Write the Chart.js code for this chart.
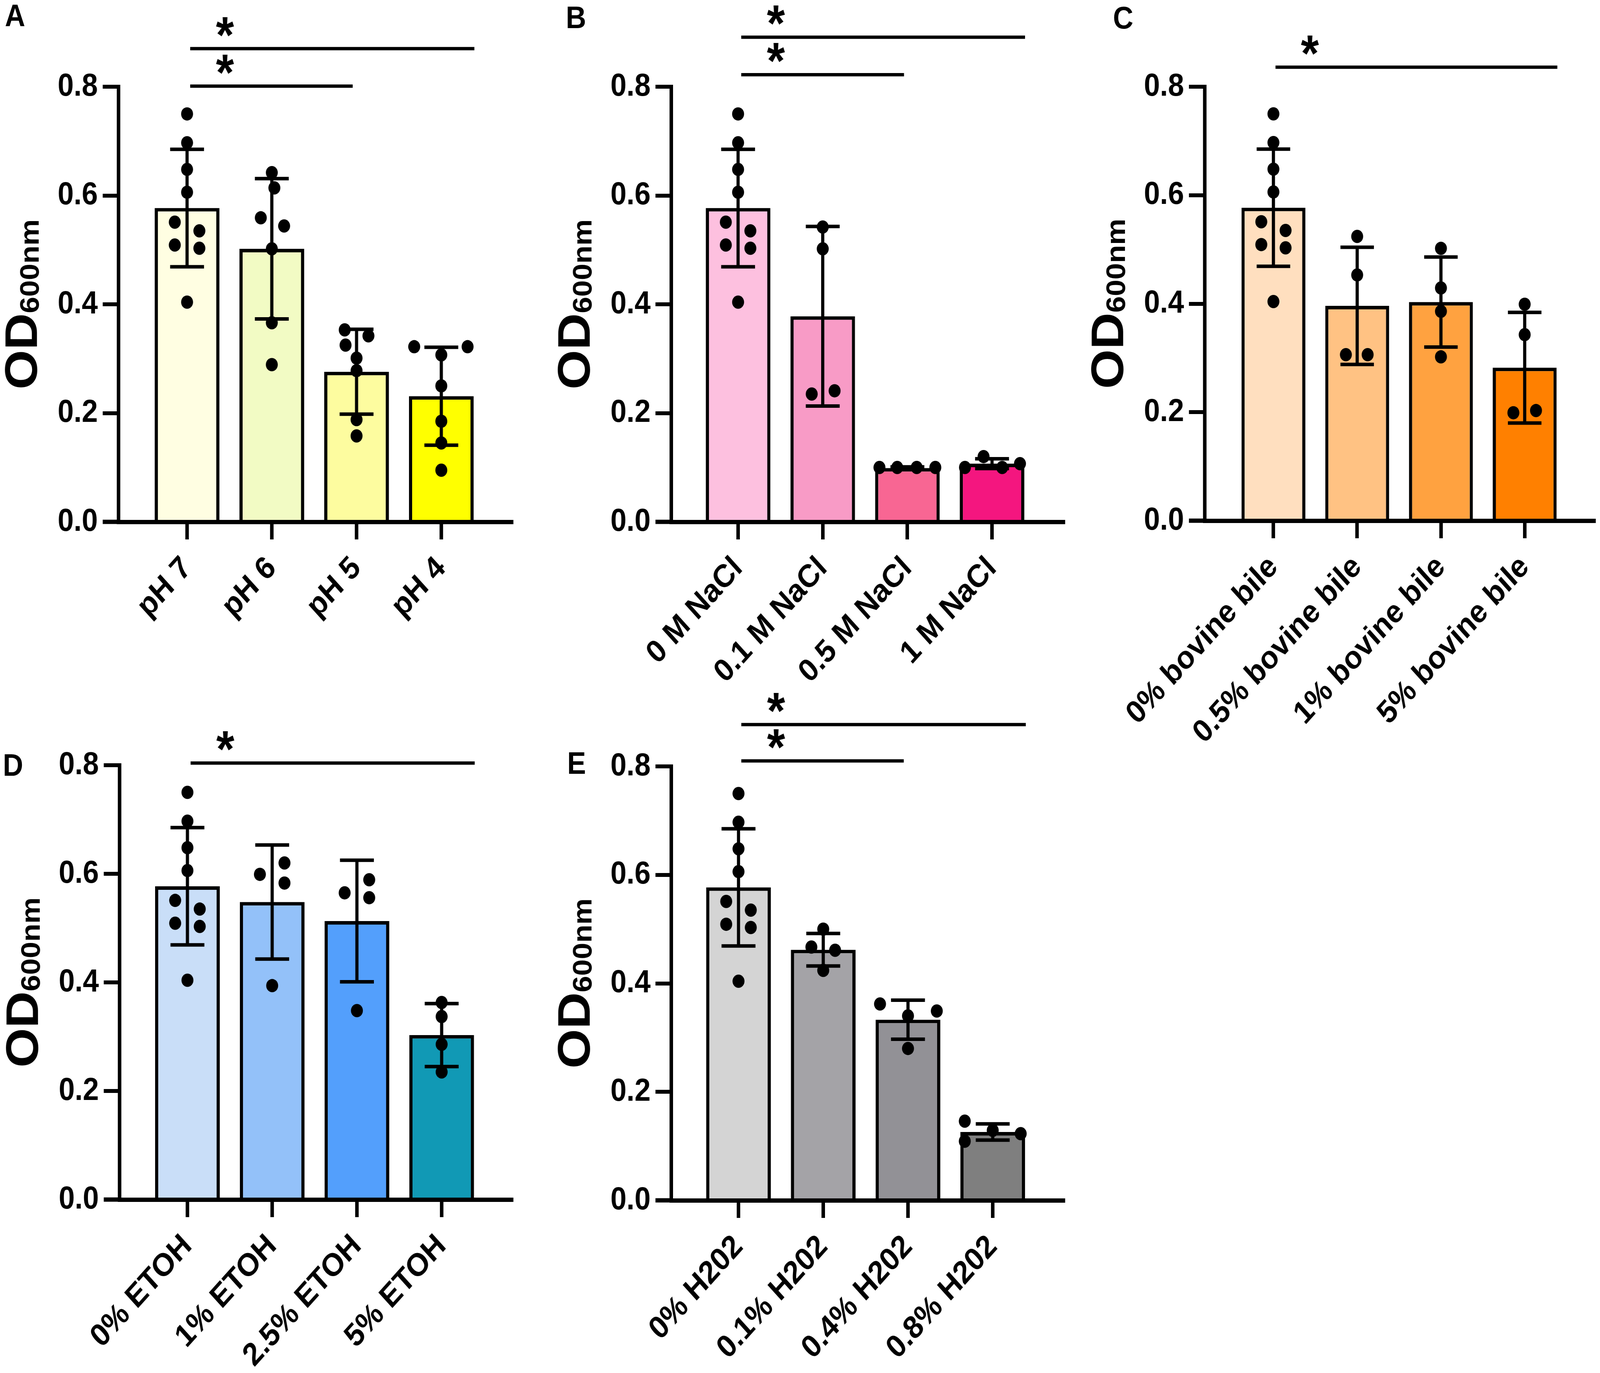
<!DOCTYPE html>
<html><head><meta charset="utf-8">
<script src="https://cdn.jsdelivr.net/npm/chart.js@4.4.1/dist/chart.umd.min.js"></script>
<style>
html,body{margin:0;padding:0;background:#fff;overflow:hidden;}
#stage{width:4550px;height:3515px;position:absolute;left:0;top:0;transform-origin:0 0;overflow:hidden;background:#fff;}
canvas{position:absolute;}
.lbl{position:absolute;font:bold 80px 'Liberation Sans',Arial,sans-serif;line-height:1;color:#000;}
</style></head><body>
<div id="stage">
<div class="lbl" style="left:14px;top:0px">A</div>
<div class="lbl" style="left:1609px;top:5px">B</div>
<div class="lbl" style="left:3165px;top:6px">C</div>
<div class="lbl" style="left:8px;top:1919px">D</div>
<div class="lbl" style="left:1613px;top:1914px">E</div>
<canvas id="cA"></canvas>
<canvas id="cB"></canvas>
<canvas id="cC"></canvas>
<canvas id="cD"></canvas>
<canvas id="cE"></canvas>
</div>
<script>
// ---------- data ----------
const yTicks = [0, 0.2, 0.4, 0.6, 0.8];
const titleMain = 'OD';
const titleSub = '600nm';
const sigMark = '*';

const controlDots = [0.750, 0.697, 0.648, 0.606, 0.551, 0.535, 0.509, 0.503, 0.404];
const controlOffs = [0, 0, 0, 0, -0.145, 0.145, -0.145, 0.145, 0];

// A - pH
const catsA = ['pH 7', 'pH 6', 'pH 5', 'pH 4'];
const meansA = [0.577, 0.502, 0.276, 0.231];
const sdA = [0.108, 0.129, 0.078, 0.090];
const colorsA = ['#FFFEE2', '#F2FBC4', '#FDFC9F', '#FFFF00'];
const dotsA = [controlDots,
  [0.642, 0.614, 0.559, 0.544, 0.502, 0.366, 0.289],
  [0.353, 0.342, 0.325, 0.301, 0.278, 0.188, 0.158],
  [0.322, 0.322, 0.307, 0.250, 0.185, 0.145, 0.095]];
const offsA = [controlOffs,
  [0, 0.03, -0.13, 0.145, 0, 0, 0],
  [-0.14, 0.14, -0.13, 0, 0, 0, 0],
  [-0.32, 0.31, 0, 0, 0, 0, 0]];
const sigA = [[0.037, 3.39, 0.870], [0.037, 1.954, 0.801]];

// B - NaCl
const catsB = ['0 M NaCl', '0.1 M NaCl', '0.5 M NaCl', '1 M NaCl'];
const meansB = [0.577, 0.378, 0.099, 0.107];
const sdB = [0.108, 0.165, 0.002, 0.009];
const colorsB = ['#FDC0DF', '#F89BC6', '#F86693', '#F4167F'];
const dotsB = [controlDots,
  [0.542, 0.502, 0.235, 0.241],
  [0.100, 0.100, 0.100, 0.100],
  [0.100, 0.120, 0.100, 0.107]];
const offsB = [controlOffs,
  [0, 0, -0.13, 0.14],
  [-0.33, -0.12, 0.11, 0.33],
  [-0.32, -0.1, 0.12, 0.33]];
const sigB = [[0.037, 3.39, 0.891], [0.037, 1.96, 0.822]];

// C - bovine bile
const catsC = ['0% bovine bile', '0.5% bovine bile', '1% bovine bile', '5% bovine bile'];
const meansC = [0.577, 0.396, 0.403, 0.282];
const sdC = [0.108, 0.108, 0.083, 0.102];
const colorsC = ['#FFDFBF', '#FFC283', '#FFA240', '#FF8000'];
const dotsC = [controlDots,
  [0.524, 0.453, 0.306, 0.306],
  [0.502, 0.429, 0.386, 0.302],
  [0.399, 0.343, 0.199, 0.203]];
const offsC = [controlOffs,
  [0, 0, -0.135, 0.125],
  [0, 0, 0, 0],
  [0, 0, -0.135, 0.135]];
const sigC = [[0.025, 3.39, 0.836]];

// D - ETOH
const catsD = ['0% ETOH', '1% ETOH', '2.5% ETOH', '5% ETOH'];
const meansD = [0.577, 0.548, 0.513, 0.303];
const sdD = [0.108, 0.105, 0.112, 0.058];
const colorsD = ['#C9DEF8', '#93C1F9', '#539FFC', '#1199B5'];
const dotsD = [controlDots,
  [0.599, 0.620, 0.583, 0.394],
  [0.565, 0.589, 0.556, 0.348],
  [0.363, 0.337, 0.286, 0.235]];
const offsD = [controlOffs,
  [-0.145, 0.145, 0.145, 0],
  [-0.145, 0.145, 0.145, 0],
  [0, 0, 0, 0]];
const sigD = [[0.037, 3.39, 0.804]];

// E - H2O2
const catsE = ['0% H202', '0.1% H202', '0.4% H202', '0.8% H202'];
const meansE = [0.577, 0.462, 0.333, 0.126];
const sdE = [0.108, 0.030, 0.036, 0.015];
const colorsE = ['#D4D4D4', '#A4A3A7', '#929196', '#7F7F7F'];
const dotsE = [controlDots,
  [0.500, 0.467, 0.461, 0.424],
  [0.362, 0.349, 0.340, 0.280],
  [0.146, 0.109, 0.129, 0.123]];
const offsE = [controlOffs,
  [0, -0.14, 0.14, 0],
  [-0.33, 0.34, 0, 0],
  [-0.33, -0.33, 0, 0.33]];
const sigE = [[0.033, 3.39, 0.877], [0.033, 1.95, 0.810]];

// ---------- layout (pixels, in 4550x3515 design space) ----------
const FONT = "'Liberation Sans', Arial, sans-serif";
const geoA = {cx: 0,    cy: 0,    w: 1495, h: 1990, pt: 222, pr: 40, yw: 337, xh: 654, xmin: -0.809, xmax: 3.830};
const geoB = {cx: 1569, cy: 0,    w: 1495, h: 1990, pt: 222, pr: 40, yw: 340, xh: 654, xmin: -0.789, xmax: 3.843};
const geoC = {cx: 3086, cy: 0,    w: 1464, h: 1990, pt: 222, pr: 7,  yw: 340, xh: 657, xmin: -0.820, xmax: 3.828};
const geoD = {cx: 0,    cy: 1700, w: 1495, h: 1815, pt: 259, pr: 40, yw: 340, xh: 444, xmin: -0.801, xmax: 3.826};
const geoE = {cx: 1569, cy: 1700, w: 1495, h: 1815, pt: 262, pr: 40, yw: 340, xh: 442, xmin: -0.793, xmax: 3.834};

// map the 4550x3515 design space onto the real viewport
const stage = document.getElementById('stage');
const SX = window.innerWidth / 4550, SY = window.innerHeight / 3515;
stage.style.transform = 'scale(' + SX + ',' + SY + ')';

const PANEL = {};
const CAP = 0.2;
const LW = 9;

const deco = {
  id: 'deco',
  afterDatasetsDraw(chart) {
    const p = PANEL[chart.canvas.id];
    const ctx = chart.ctx, xs = chart.scales.x, ys = chart.scales.y;
    ctx.save();
    ctx.strokeStyle = '#000';
    ctx.fillStyle = '#000';
    ctx.lineWidth = LW;
    ctx.lineCap = 'butt';
    p.means.forEach((m, i) => {
      const x = xs.getPixelForValue(i);
      const yt = ys.getPixelForValue(m + p.sds[i]);
      const yb = ys.getPixelForValue(m - p.sds[i]);
      const xl = xs.getPixelForValue(i - CAP), xr = xs.getPixelForValue(i + CAP);
      ctx.beginPath();
      ctx.moveTo(x, yt); ctx.lineTo(x, yb);
      ctx.moveTo(xl, yt); ctx.lineTo(xr, yt);
      ctx.moveTo(xl, yb); ctx.lineTo(xr, yb);
      ctx.stroke();
    });
    ctx.lineWidth = 8.5;
    ctx.font = 'bold 132px ' + FONT;
    ctx.textAlign = 'center';
    ctx.textBaseline = 'alphabetic';
    const mm = ctx.measureText(sigMark);
    p.sigs.forEach(([from, to, yv]) => {
      const y = ys.getPixelForValue(yv);
      ctx.beginPath();
      ctx.moveTo(xs.getPixelForValue(from), y);
      ctx.lineTo(xs.getPixelForValue(to), y);
      ctx.stroke();
      const gx = xs.getPixelForValue(from + 0.41);
      const gy = y - 56;
      ctx.fillText(sigMark, gx, gy + (mm.actualBoundingBoxAscent - mm.actualBoundingBoxDescent) / 2);
    });
    ctx.restore();
  },
  afterDraw(chart) {
    const ctx = chart.ctx, a = chart.chartArea;
    ctx.save();
    ctx.strokeStyle = '#000';
    ctx.lineWidth = 11;
    ctx.beginPath();
    ctx.moveTo(a.left - 45, a.bottom);
    ctx.lineTo(a.left + 2, a.bottom);
    ctx.stroke();
    ctx.translate(a.left - 232, (a.top + a.bottom) / 2);
    ctx.rotate(-Math.PI / 2);
    ctx.fillStyle = '#000';
    ctx.textAlign = 'left';
    ctx.textBaseline = 'alphabetic';
    ctx.font = 'bold 130px ' + FONT;
    const w1 = ctx.measureText(titleMain).width;
    ctx.font = 'bold 76px ' + FONT;
    const w2 = ctx.measureText(titleSub).width;
    const x0 = -(w1 + w2) / 2;
    ctx.font = 'bold 130px ' + FONT;
    ctx.fillText(titleMain, x0, 0);
    ctx.font = 'bold 76px ' + FONT;
    ctx.fillText(titleSub, x0 + w1, 5);
    ctx.restore();
  }
};

function axisGrid() {
  return { offset: false, drawOnChartArea: false, drawTicks: true, tickLength: 45,
           tickWidth: 10, tickColor: '#000', color: '#000', lineWidth: 10 };
}

function makePanel(id, geo, cats, means, sds, colors, dotVals, dotOffs, sigs) {
  const cv = document.getElementById(id);
  cv.style.left = geo.cx + 'px'; cv.style.top = geo.cy + 'px';
  cv.style.width = geo.w + 'px'; cv.style.height = geo.h + 'px';
  cv.width = geo.w; cv.height = geo.h;
  const dots = [];
  dotVals.forEach((grp, i) => grp.forEach((v, j) => dots.push({x: i + dotOffs[i][j], y: v})));
  PANEL[id] = {means, sds, sigs};
  new Chart(cv, {
    type: 'bar',
    data: {
      datasets: [
        { type: 'scatter', data: dots, order: 1, pointRadius: 17, pointHoverRadius: 17,
          pointBackgroundColor: '#000', pointBorderColor: '#000', pointBorderWidth: 0 },
        { type: 'bar', data: means.map((m, i) => ({x: i, y: m})), order: 2,
          backgroundColor: colors, borderColor: '#000', borderWidth: 9,
          barPercentage: 0.763, categoryPercentage: 1 }
      ]
    },
    options: {
      responsive: false, maintainAspectRatio: false, animation: false, devicePixelRatio: 1, events: [],
      layout: { padding: { top: geo.pt, right: geo.pr, left: 0, bottom: 0 } },
      plugins: { legend: { display: false }, tooltip: { enabled: false } },
      scales: {
        x: {
          type: 'linear', min: geo.xmin, max: geo.xmax, offset: false,
          afterBuildTicks: s => { s.ticks = cats.map((c, i) => ({value: i})); },
          afterFit: s => { s.height = geo.xh; s.paddingLeft = 0; s.paddingRight = 0; },
          ticks: { autoSkip: false, minRotation: 45, maxRotation: 45, padding: 26, color: '#000',
                   font: { family: FONT, size: 82, weight: 'bold' }, callback: v => cats[v] },
          grid: axisGrid(),
          border: { display: true, width: 11, color: '#000' }
        },
        y: {
          type: 'linear', min: 0, max: 0.8,
          afterBuildTicks: s => { s.ticks = yTicks.map(v => ({value: v})); },
          afterFit: s => { s.width = geo.yw; s.paddingTop = 0; s.paddingBottom = 0; },
          ticks: { padding: 14, color: '#000', font: { family: FONT, size: 82, weight: 'bold' },
                   callback: v => v.toFixed(1) },
          grid: axisGrid(),
          border: { display: true, width: 10, color: '#000' }
        }
      }
    },
    plugins: [deco]
  });
}

makePanel('cA', geoA, catsA, meansA, sdA, colorsA, dotsA, offsA, sigA);
makePanel('cB', geoB, catsB, meansB, sdB, colorsB, dotsB, offsB, sigB);
makePanel('cC', geoC, catsC, meansC, sdC, colorsC, dotsC, offsC, sigC);
makePanel('cD', geoD, catsD, meansD, sdD, colorsD, dotsD, offsD, sigD);
makePanel('cE', geoE, catsE, meansE, sdE, colorsE, dotsE, offsE, sigE);
</script>
</body></html>
